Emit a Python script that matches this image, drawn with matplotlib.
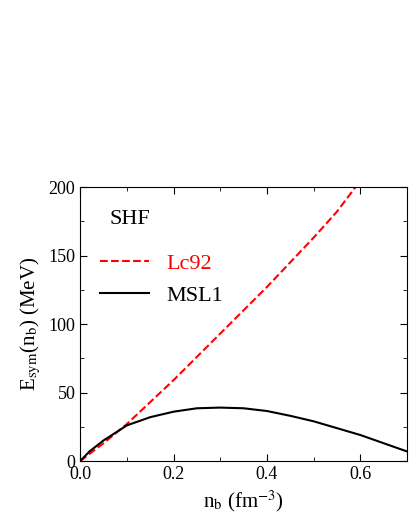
import matplotlib
matplotlib.use("Agg")
import matplotlib.pyplot as plt
import numpy as np
from matplotlib.ticker import MultipleLocator

nb_lc = [0.0, 0.05, 0.1, 0.15, 0.2, 0.25, 0.3, 0.35, 0.4, 0.45, 0.5, 0.55, 0.59]
e_lc = [0, 13, 27, 43, 59, 76, 93, 110, 127, 145, 163, 182, 200]
nb_ms = [0.0, 0.02, 0.05, 0.1, 0.15, 0.2, 0.25, 0.3, 0.35, 0.4, 0.45, 0.5, 0.55, 0.6, 0.65, 0.7]
e_ms = [0, 7, 15, 26, 32, 36, 38.5, 39, 38.5, 36.5, 33, 29, 24, 19, 13, 7]

plt.rcParams['font.family'] = ['Liberation Serif', 'DejaVu Serif']
plt.rcParams['mathtext.fontset'] = 'stix'
fig = plt.figure(figsize=(4.09, 5.29), dpi=100)
ax = fig.add_axes([0.196, 0.1285, 0.799, 0.518])
ax.plot(nb_lc, e_lc, 'r--', lw=1.5, label='Lc92')
ax.plot(nb_ms, e_ms, 'k-', lw=1.5, label='MSL1')
ax.set_xlim(0, 0.7)
ax.set_ylim(0, 200)
ax.xaxis.set_major_locator(MultipleLocator(0.2))
ax.xaxis.set_minor_locator(MultipleLocator(0.1))
ax.yaxis.set_major_locator(MultipleLocator(50))
ax.yaxis.set_minor_locator(MultipleLocator(25))
ax.tick_params(which='both', direction='in', top=True, right=True, labelsize=13)
ax.tick_params(which='major', length=5)
ax.tick_params(which='minor', length=3)
ax.set_xlabel(r'n$_\mathrm{b}$ (fm$^{-3}$)', fontsize=15)
ax.set_ylabel(r'E$_\mathrm{sym}$(n$_\mathrm{b}$) (MeV)', fontsize=15)
ax.text(0.09, 0.88, 'SHF', transform=ax.transAxes, fontsize=16, va='center')
leg = ax.legend(loc='upper left', bbox_to_anchor=(0.0, 0.83), frameon=False, fontsize=16,
                handlelength=2.2, labelspacing=0.5)
leg.get_texts()[0].set_color('red')
fig.savefig('out.png')
